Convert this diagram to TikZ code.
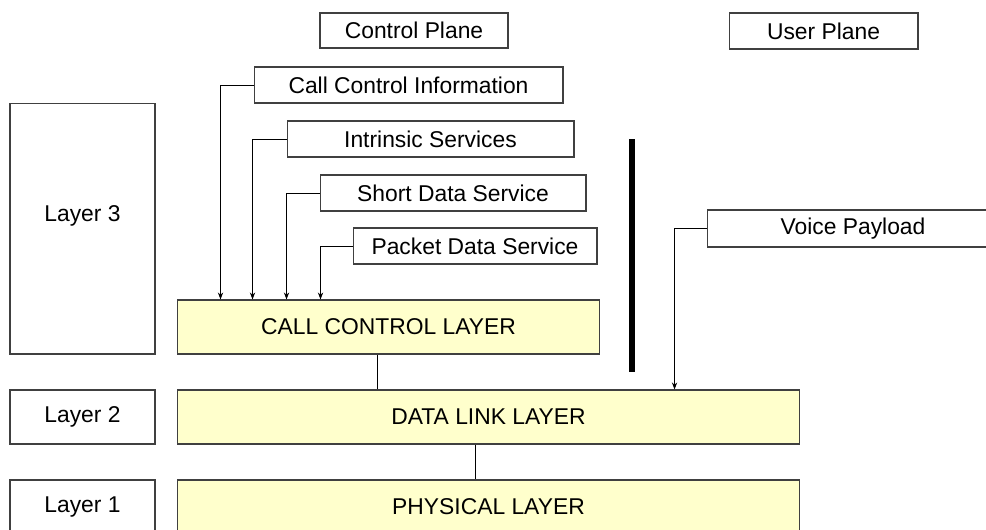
\documentclass[tikz,border=0pt]{standalone}
\usepackage{fontspec}
\setmainfont{Liberation Sans}
\usetikzlibrary{calc,arrows.meta}
\definecolor{layerfill}{HTML}{FFFFCC}

\begin{document}
\begin{tikzpicture}[x=0.02cm,y=-0.02cm]
\tikzstyle{box}=[draw=black!75,line width=0.6pt,inner sep=0pt,font=\fontsize{13}{15}\selectfont]
\tikzstyle{layer}=[box,fill=layerfill]
\tikzstyle{arr}=[line width=0.5pt,-{Stealth[length=4pt,width=3pt]}]

\useasboundingbox (0,0) rectangle (986,529);

% planes
\node[box,minimum width=3.76cm,minimum height=0.70cm] (ctrlplane) at (414,30.5) {Control Plane};
\node[box,minimum width=3.78cm,minimum height=0.72cm] (userplane) at (823.5,31) {User Plane};

% services feeding the call control layer
\node[box,minimum width=6.18cm,minimum height=0.72cm] (callinfo) at (408.5,85) {Call Control Information};
\node[box,minimum width=5.74cm,minimum height=0.72cm] (intrinsic) at (430.5,139) {Intrinsic Services};
\node[box,minimum width=5.32cm,minimum height=0.72cm] (sds) at (453,193) {Short Data Service};
\node[box,minimum width=4.88cm,minimum height=0.72cm] (pds) at (475,246) {Packet Data Service};
\node[box,minimum width=5.84cm,minimum height=0.74cm] (voice) at (853,228.5) {Voice Payload};

% layer labels
\node[box,minimum width=2.90cm,minimum height=5.02cm,text depth=0.6cm] (layer3) at (82.5,228.5) {Layer 3};
\node[box,minimum width=2.90cm,minimum height=1.08cm] (layer2) at (82.5,417) {Layer 2};
\node[box,minimum width=2.90cm,minimum height=1.08cm] (layer1) at (82.5,507) {Layer 1};

% protocol stack
\node[layer,minimum width=8.46cm,minimum height=1.08cm] (ccl) at (388.5,327) {CALL CONTROL LAYER};
\node[layer,minimum width=12.46cm,minimum height=1.08cm] (dll) at (488.5,417) {DATA LINK LAYER};
\node[layer,minimum width=12.46cm,minimum height=1.08cm] (phys) at (488.5,507) {PHYSICAL LAYER};

\draw[arr] (callinfo.west) -| ($(ccl.north west)+(44,0)$);
\draw[arr] (intrinsic.west) -| ($(ccl.north west)+(76,0)$);
\draw[arr] (sds.west) -| ($(ccl.north west)+(110,0)$);
\draw[arr] (pds.west) -| ($(ccl.north west)+(144,0)$);
\draw[arr] (voice.west) -| ($(dll.north west)+(498,0)$);

\draw[line width=0.5pt] ($(ccl.south west)+(201,0)$) coordinate (c1) -- (c1 |- dll.north);
\draw[line width=0.5pt] ($(dll.south west)+(299,0)$) coordinate (c2) -- (c2 |- phys.north);

% plane separator
\draw[line width=3.4pt] (632,139) -- (632,372);
\end{tikzpicture}
\end{document}
